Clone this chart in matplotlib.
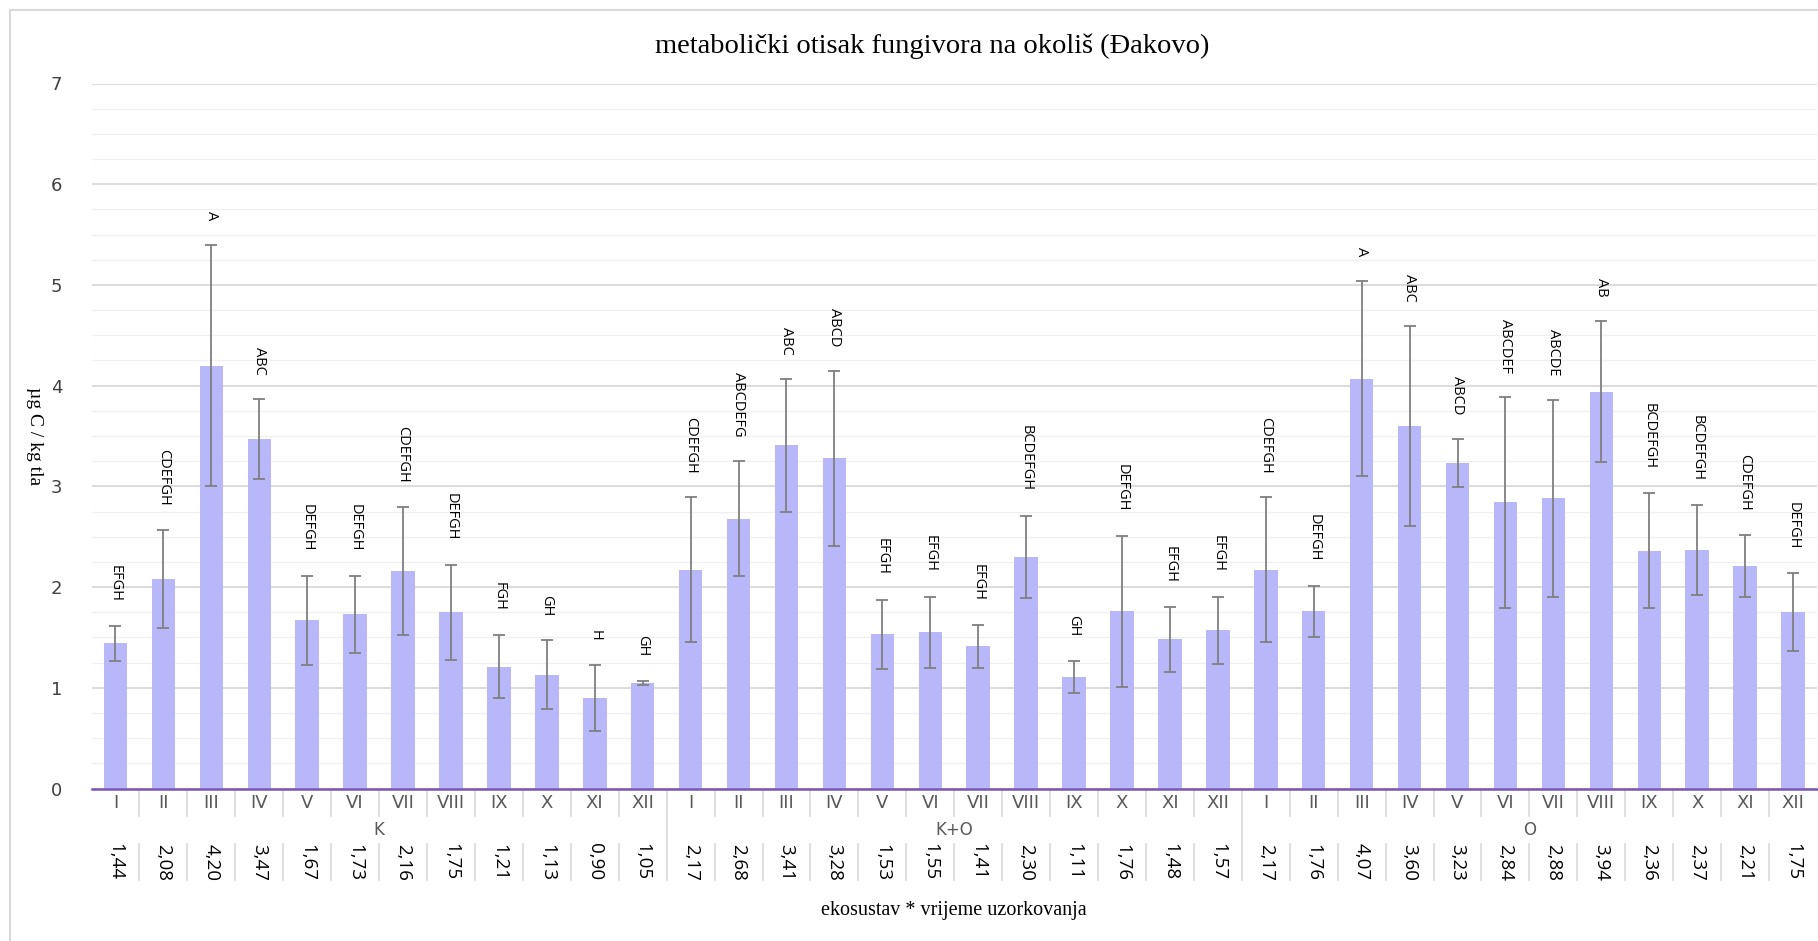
import numpy as np
import matplotlib.pyplot as plt
from matplotlib import transforms
from matplotlib.patches import Rectangle
from matplotlib.lines import Line2D

# groups and sampling months
groups = ['K', 'K+O', 'O']
months = ['I', 'II', 'III', 'IV', 'V', 'VI', 'VII', 'VIII', 'IX', 'X', 'XI', 'XII']

# means per group (µg C / kg tla)
k_vals = [1.44, 2.08, 4.20, 3.47, 1.67, 1.73, 2.16, 1.75, 1.21, 1.13, 0.90, 1.05]
ko_vals = [2.17, 2.68, 3.41, 3.28, 1.53, 1.55, 1.41, 2.30, 1.11, 1.76, 1.48, 1.57]
o_vals = [2.17, 1.76, 4.07, 3.60, 3.23, 2.84, 2.88, 3.94, 2.36, 2.37, 2.21, 1.75]

# error bar half-widths
k_err = [0.17, 0.49, 1.20, 0.40, 0.44, 0.38, 0.64, 0.47, 0.31, 0.34, 0.33, 0.02]
ko_err = [0.72, 0.57, 0.66, 0.87, 0.345, 0.355, 0.215, 0.41, 0.16, 0.75, 0.32, 0.335]
o_err = [0.72, 0.255, 0.97, 0.99, 0.24, 1.05, 0.98, 0.70, 0.57, 0.445, 0.31, 0.385]

# significance letters
k_let = ['EFGH', 'CDEFGH', 'A', 'ABC', 'DEFGH', 'DEFGH', 'CDEFGH', 'DEFGH', 'FGH', 'GH', 'H', 'GH']
ko_let = ['CDEFGH', 'ABCDEFG', 'ABC', 'ABCD', 'EFGH', 'EFGH', 'EFGH', 'BCDEFGH', 'GH', 'DEFGH', 'EFGH', 'EFGH']
o_let = ['CDEFGH', 'DEFGH', 'A', 'ABC', 'ABCD', 'ABCDEF', 'ABCDE', 'AB', 'BCDEFGH', 'BCDEFGH', 'CDEFGH', 'DEFGH']

vals = k_vals + ko_vals + o_vals
errs = k_err + ko_err + o_err
letters = k_let + ko_let + o_let
n = len(vals)
x = np.arange(n)

W, H = 1818, 941
fig = plt.figure(figsize=(W / 100, H / 100), dpi=100)
ax = fig.add_axes([91.5 / W, 1 - 788.5 / H, (1817 - 91.5) / W, (788.5 - 83.5) / H])

ax.bar(x, vals, width=0.49, color='#b7b7fa', zorder=2)
ax.errorbar(x, vals, yerr=errs, fmt='none', ecolor='#7f7f7f', elinewidth=1.3,
            capsize=4, capthick=1.3, zorder=3)

for xi, v, e, lab in zip(x, vals, errs, letters):
    ax.text(xi, v + e + 0.24, lab, rotation=270, ha='center', va='bottom',
            fontsize=10.5, family='Open Sans', color='black')

ax.set_xlim(-0.5, n - 0.5)
ax.set_ylim(0, 7)
ax.set_yticks(np.arange(0, 8))
ax.set_yticks(np.arange(0, 7.01, 0.25), minor=True)
ax.grid(which='major', axis='y', color='#d9d9d9', lw=1.3, zorder=0)
ax.grid(which='minor', axis='y', color='#f0f0f0', lw=1.0, zorder=0)
ax.set_axisbelow(True)
ax.tick_params(axis='y', which='both', length=0, pad=21, labelsize=13, labelcolor='#404040')
for t in ax.get_yticklabels():
    t.set_family('Liberation Sans Narrow')
ax.set_xticks([])
for s in ['top', 'right', 'left']:
    ax.spines[s].set_visible(False)
ax.spines['bottom'].set_color('#7a55b5')
ax.spines['bottom'].set_linewidth(1.8)
ax.spines['bottom'].set_zorder(4)

# multi-level category axis below the plot
tr = transforms.blended_transform_factory(ax.transData, fig.transFigure)
fy = lambda p: 1 - p / H
for i in range(n):
    ax.text(x[i], fy(803), months[i % 12], transform=tr, ha='center', va='center',
            fontsize=13, family='Liberation Sans Narrow', color='#595959')
    ax.text(x[i], fy(862), f'{vals[i]:.2f}'.replace('.', ','), transform=tr,
            rotation=270, ha='center', va='center', fontsize=13.5,
            family='Open Sans', color='black')
for gi, g in enumerate(groups):
    ax.text(gi * 12 + 5.5, fy(830), g, transform=tr, ha='center', va='center',
            fontsize=12, family='Liberation Sans Narrow', color='#595959')

for b in np.arange(0.5, n - 0.5, 1.0):
    if int(b + 0.5) % 12 == 0:
        ax.add_line(Line2D([b, b], [fy(789), fy(880)], transform=tr, color='#d9d9d9',
                           lw=1.2, clip_on=False))
    else:
        ax.add_line(Line2D([b, b], [fy(789), fy(816)], transform=tr, color='#d9d9d9',
                           lw=1.2, clip_on=False))
        ax.add_line(Line2D([b, b], [fy(844), fy(880)], transform=tr, color='#d9d9d9',
                           lw=1.2, clip_on=False))

fig.text(932 / W, fy(46), 'metabolički otisak fungivora na okoliš (Đakovo)',
         ha='center', va='center', fontsize=20.5, family='Liberation Serif')
fig.text(954 / W, fy(911), 'ekosustav * vrijeme uzorkovanja',
         ha='center', va='center', fontsize=14.5, family='Liberation Serif')
fig.text(34 / W, fy(436), 'µg C / kg tla', rotation=270, ha='center', va='center',
         fontsize=14, family='Liberation Serif')

# chart border
fig.patches.append(Rectangle((10 / W, -0.01), 1.0, 1 - 10 / H + 0.01, transform=fig.transFigure,
                             fill=False, edgecolor='#d9d9d9', lw=1.5))

fig.savefig('out.png', dpi=100)
